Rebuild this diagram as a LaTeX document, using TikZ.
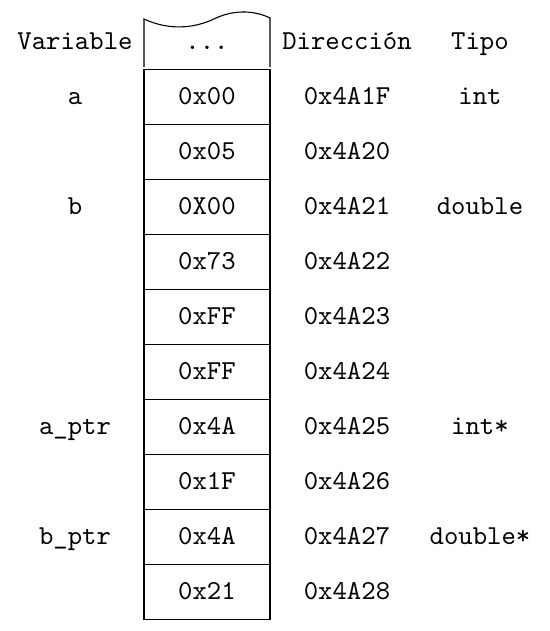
\documentclass[tikz,border=0pt]{standalone}
\usetikzlibrary{positioning}
\begin{document}
\begin{tikzpicture}[x=0.012836cm, y=-0.012836cm, font=\ttfamily,
  cell/.style={draw, minimum width=1.617cm, minimum height=0.706cm, inner sep=0pt,
    text height=1.6ex, text depth=0.3ex},
  lbl/.style={inner sep=0pt, text height=1.6ex, text depth=0.3ex}]
\useasboundingbox (0,0) rectangle (550,631);
% wavy top of the memory strip
\draw (144,67) -- (144,19) .. controls (172,32) and (198,27) .. (216,18)
  .. controls (236,9) and (256,11) .. (270,18) -- (270,67);
\node[lbl] (dots) at (207,42) {...};
% headers
\node[lbl] (hvar) at (75,42) {Variable};
\node[lbl] (hdir) at (347,42) {Dirección};
\node[lbl] (htipo) at (480,42) {Tipo};
% memory cells
\foreach \val/\addr/\var/\tipo [count=\i] in {0x00/0x4A1F/a/int, 0x05/0x4A20//,
  0X00/0x4A21/b/double, 0x73/0x4A22//, 0xFF/0x4A23//, 0xFF/0x4A24//,
  0x4A/0x4A25/a\_ptr/int*, 0x1F/0x4A26//, 0x4A/0x4A27/b\_ptr/double*, 0x21/0x4A28//}
{
  \node[cell] (m\i) at (207,{42+55*\i}) {\val};
  \node[lbl] (d\i) at (347,{42+55*\i}) {\addr};
  \node[lbl] (v\i) at (75,{42+55*\i}) {\var};
  \node[lbl] (t\i) at (480,{42+55*\i}) {\tipo};
}
\end{tikzpicture}
\end{document}
